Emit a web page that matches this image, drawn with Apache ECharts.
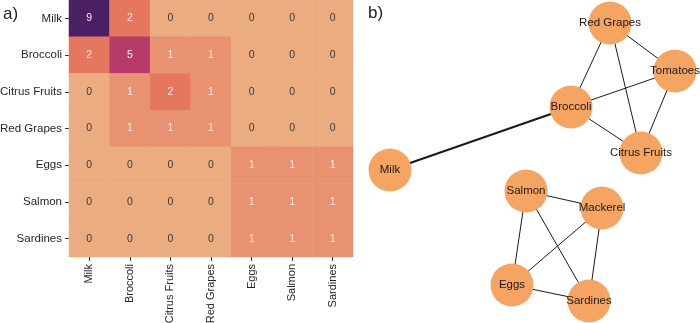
<!DOCTYPE html>
<html><head><meta charset="utf-8">
<script src="https://cdn.jsdelivr.net/npm/echarts@6/dist/echarts.min.js"></script>
<style>html,body{margin:0;padding:0;background:#fff}#c{width:700px;height:323px}</style>
</head><body><div id="c"></div>
<script>
// Heatmap data
const foods = ['Milk','Broccoli','Citrus Fruits','Red Grapes','Eggs','Salmon','Sardines'];
const rowMilk      = [9,2,0,0,0,0,0];
const rowBroccoli  = [2,5,1,1,0,0,0];
const rowCitrus    = [0,1,2,1,0,0,0];
const rowGrapes    = [0,1,1,1,0,0,0];
const rowEggs      = [0,0,0,0,1,1,1];
const rowSalmon    = [0,0,0,0,1,1,1];
const rowSardines  = [0,0,0,0,1,1,1];
const matrix = [rowMilk,rowBroccoli,rowCitrus,rowGrapes,rowEggs,rowSalmon,rowSardines];

// Network data (node positions in panel units)
const nodeNames = ['Red Grapes','Tomatoes','Broccoli','Citrus Fruits','Milk','Salmon','Mackerel','Eggs','Sardines'];
const nodeX = [250,315,211,281,30,166,242,152,229];
const nodeY = [23,71,107,153,170,191,208,285,301];
const edgeSource = ['Red Grapes','Red Grapes','Red Grapes','Tomatoes','Tomatoes','Broccoli','Broccoli','Salmon','Salmon','Salmon','Mackerel','Mackerel','Eggs'];
const edgeTarget = ['Tomatoes','Broccoli','Citrus Fruits','Broccoli','Citrus Fruits','Citrus Fruits','Milk','Mackerel','Eggs','Sardines','Eggs','Sardines','Sardines'];
const edgeWeight = [1,1,1,1,1,1,2,1,1,1,1,1,1];

const heatColors = {0:'#ebad7f',1:'#e99271',2:'#e6775f',5:'#b43b6a',9:'#4b1f63'};

const heatData = [];
matrix.forEach((row, r) => row.forEach((v, c) => {
  heatData.push({value:[c, r, v], label:{color: v === 0 ? '#3a3a3a' : '#f7ece6'}});
}));

const font = 'Liberation Sans, Arial, sans-serif';
const chart = echarts.init(document.getElementById('c'));
chart.setOption({
  animation:false,
  textStyle:{fontFamily:font},
  grid:[
    {left:69, top:0, width:284, height:257, containLabel:false, outerBoundsMode:'none'},
    {left:360, top:0, width:340, height:323, containLabel:false, outerBoundsMode:'none'}
  ],
  xAxis:[
    {type:'category', data:foods, gridIndex:0, axisLine:{show:false},
     axisTick:{show:true, alignWithLabel:true, length:4, lineStyle:{color:'#333'}},
     axisLabel:{rotate:90, fontSize:11, color:'#262626', margin:7, fontFamily:font},
     splitLine:{show:false}},
    {type:'value', gridIndex:1, min:0, max:340, show:false}
  ],
  yAxis:[
    {type:'category', data:foods, gridIndex:0, inverse:true, axisLine:{show:false},
     axisTick:{show:true, alignWithLabel:true, length:4, lineStyle:{color:'#333'}},
     axisLabel:{fontSize:11.5, color:'#262626', margin:7, fontFamily:font},
     splitLine:{show:false}},
    {type:'value', gridIndex:1, min:0, max:323, inverse:true, show:false}
  ],
  visualMap:{type:'piecewise', show:false, dimension:2, seriesIndex:0,
    pieces:Object.keys(heatColors).map(k => ({value:+k, color:heatColors[k]}))},
  graphic:[
    {type:'text', left:3, top:6, style:{text:'a)', fontSize:17, fill:'#222', fontFamily:font}},
    {type:'text', left:368, top:5, style:{text:'b)', fontSize:17, fill:'#222', fontFamily:font}}
  ],
  series:[
    {type:'heatmap', xAxisIndex:0, yAxisIndex:0, data:heatData,
     label:{show:true, fontSize:10.5, fontFamily:font, formatter:p => p.value[2]},
     itemStyle:{borderWidth:0}},
    {type:'graph', coordinateSystem:'cartesian2d', xAxisIndex:1, yAxisIndex:1,
     symbol:'circle', symbolSize:43,
     itemStyle:{color:'#f5a461'},
     label:{show:true, position:'inside', color:'#1a1a1a', fontSize:11.5, fontFamily:font},
     lineStyle:{color:'#1a1a1a', width:1, opacity:1},
     edgeSymbol:['none','none'],
     z:3,
     data:nodeNames.map((n,i) => ({name:n, value:[nodeX[i], nodeY[i]]})),
     links:edgeSource.map((s,i) => ({source:s, target:edgeTarget[i], lineStyle:{width:edgeWeight[i]}}))
    }
  ]
});
</script></body></html>
